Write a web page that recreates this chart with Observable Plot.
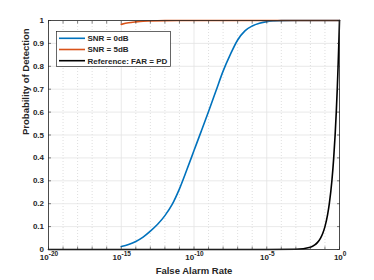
<!DOCTYPE html>
<html>
<head>
<meta charset="utf-8">
<script src="https://cdn.jsdelivr.net/npm/d3@7"></script>
<script src="https://cdn.jsdelivr.net/npm/@observablehq/plot@0.6"></script>
<style>
  body { margin: 0; background: #fff; }
  #wrap { position: relative; width: 374px; height: 280px; font-family: "Liberation Sans", Arial, Helvetica, sans-serif; }
  #legend { position: absolute; left: 56px; top: 31px; }
</style>
</head>
<body>
<div id="wrap"><div id="chart"></div><div id="legend"></div></div>
<script>
// ---- data ----
const xLabel = "False Alarm Rate";
const yLabel = "Probability of Detection";
const xTickExps = [-20, -15, -10, -5, 0];
const xTickExpLabels = ["-20", "-15", "-10", "-5", "0"];
const decadeExps = [-20,-19,-18,-17,-16,-15,-14,-13,-12,-11,-10,-9,-8,-7,-6,-5,-4,-3,-2,-1,0];
const yTicks = [0, 0.1, 0.2, 0.3, 0.4, 0.5, 0.6, 0.7, 0.8, 0.9, 1];
const yTickLabels = ["0", "0.1", "0.2", "0.3", "0.4", "0.5", "0.6", "0.7", "0.8", "0.9", "1"];

const seriesNames = ["SNR = 0dB", "SNR = 5dB", "Reference: FAR = PD"];
const seriesColors = ["#0072BD", "#D95319", "#000000"];

// SNR = 0dB (exponent of FAR, PD)
const snr0Exp = [-15, -14.5, -14, -13.5, -13, -12.5, -12, -11.5, -11, -10.5, -10, -9.5, -9, -8.5, -8, -7.5, -7, -6.5, -6, -5.5, -5, -4.5, -4, -3, -2, -1, 0];
const snr0Pd  = [0.013, 0.022, 0.035, 0.054, 0.08, 0.11, 0.148, 0.197, 0.265, 0.347, 0.432, 0.517, 0.603, 0.691, 0.779, 0.852, 0.915, 0.955, 0.976, 0.988, 0.995, 0.998, 0.9995, 1, 1, 1, 1];
// SNR = 5dB
const snr5Exp = [-15, -14.5, -14, -13.5, -13, -12, -11, -10, -5, 0];
const snr5Pd  = [0.983, 0.99, 0.994, 0.997, 0.998, 0.9995, 1, 1, 1, 1];
// Reference FAR = PD
const refFar = [1e-20, 1e-10, 1e-5, 1e-3, 0.01, 0.02, 0.03, 0.05, 0.07, 0.1, 0.15, 0.2, 0.3, 0.4, 0.5, 0.6, 0.7, 0.8, 0.9, 1];
const refPd  = [1e-20, 1e-10, 1e-5, 1e-3, 0.01, 0.02, 0.03, 0.05, 0.07, 0.1, 0.15, 0.2, 0.3, 0.4, 0.5, 0.6, 0.7, 0.8, 0.9, 1];

// ---- build ----
const p10 = e => Math.pow(10, e);
const rows = [];
snr0Exp.forEach((e, i) => rows.push({s: seriesNames[0], x: p10(e), y: snr0Pd[i]}));
snr5Exp.forEach((e, i) => rows.push({s: seriesNames[1], x: p10(e), y: snr5Pd[i]}));
refFar.forEach((f, i) => rows.push({s: seriesNames[2], x: f, y: refPd[i]}));

const xTicks = xTickExps.map(p10);
const decades = decadeExps.map(p10);
const minorDecades = decadeExps.filter(e => !xTickExps.includes(e)).map(p10);

const axisColor = "#262626";
const font = "'Liberation Sans', Arial, Helvetica, sans-serif";

// approximate label widths to centre "10^exp" on the tick
const baseW = 10.3;
const expW = s => [...s].reduce((w, c) => w + (c === "-" ? 2.4 : 3.7), 0);

const chart = Plot.plot({
  width: 374,
  height: 280,
  marginTop: 20,
  marginRight: 35,
  marginBottom: 31,
  marginLeft: 48,
  style: {fontFamily: font, fontSize: "8px", color: axisColor, background: "#fff"},
  x: {type: "log", domain: [1e-20, 1], axis: null},
  y: {domain: [0, 1], axis: null},
  color: {domain: seriesNames, range: seriesColors},
  marks: [
    Plot.ruleX(minorDecades, {x: d => d, stroke: "#c8c8c8", strokeWidth: 0.6, strokeDasharray: "1,2"}),
    Plot.ruleX(xTicks, {x: d => d, stroke: "#e3e3e3", strokeWidth: 0.8}),
    Plot.ruleY(yTicks, {y: d => d, stroke: "#e3e3e3", strokeWidth: 0.8}),
    Plot.line(rows, {x: "x", y: "y", z: "s", stroke: "s", strokeWidth: 1.6, curve: "monotone-x"}),
    Plot.frame({stroke: axisColor, strokeWidth: 0.8}),
    Plot.axisX(decades, {anchor: "bottom", tickSize: -2.5, tickFormat: () => "", stroke: axisColor, strokeWidth: 0.6, label: null}),
    Plot.axisX(decades, {anchor: "top", tickSize: -2.5, tickFormat: () => "", stroke: axisColor, strokeWidth: 0.6, label: null}),
    Plot.axisY(yTicks, {anchor: "left", tickSize: -3, tickFormat: () => "", stroke: axisColor, strokeWidth: 0.6, label: null}),
    Plot.axisY(yTicks, {anchor: "right", tickSize: -3, tickFormat: () => "", stroke: axisColor, strokeWidth: 0.6, label: null}),
    // y tick labels
    Plot.text(yTicks, {x: 1e-20, y: d => d, text: (d, i) => yTickLabels[i], textAnchor: "end", dx: -4.5, fontWeight: "bold", fontSize: 8, fill: axisColor}),
    // x tick labels: "10" + superscript exponent
    ...xTicks.map((t, i) => Plot.text([t], {x: d => d, y: 0, text: () => "10", textAnchor: "end",
        dx: (baseW - expW(xTickExpLabels[i])) / 2, dy: 7.5, fontWeight: "bold", fontSize: 8, fill: axisColor})),
    ...xTicks.map((t, i) => Plot.text([t], {x: d => d, y: 0, text: () => xTickExpLabels[i], textAnchor: "start",
        dx: (baseW - expW(xTickExpLabels[i])) / 2, dy: 4, fontWeight: "bold", fontSize: 6.5, fill: axisColor})),
    // axis titles
    Plot.text([xLabel], {frameAnchor: "bottom", text: d => d, dy: 24, fontWeight: "bold", fontSize: 9.5, fill: axisColor}),
    Plot.text([yLabel], {frameAnchor: "left", text: d => d, rotate: -90, dx: -23, fontWeight: "bold", fontSize: 9.5, fill: axisColor})
  ]
});
document.getElementById("chart").appendChild(chart);

// legend box
const lg = d3.select("#legend").append("svg").attr("width", 115).attr("height", 36);
lg.append("rect").attr("x", 0.5).attr("y", 0.5).attr("width", 114).attr("height", 35)
  .attr("fill", "#fff").attr("stroke", axisColor).attr("stroke-width", 0.7);
seriesNames.forEach((name, i) => {
  const cy = 7.3 + i * 11.2;
  lg.append("line").attr("x1", 3).attr("x2", 29).attr("y1", cy).attr("y2", cy)
    .attr("stroke", seriesColors[i]).attr("stroke-width", 1.6);
  lg.append("text").attr("x", 31.5).attr("y", cy).attr("dy", "0.35em")
    .attr("font-family", font).attr("font-size", 8).attr("font-weight", "bold")
    .attr("fill", axisColor).text(name);
});
</script>
</body>
</html>
